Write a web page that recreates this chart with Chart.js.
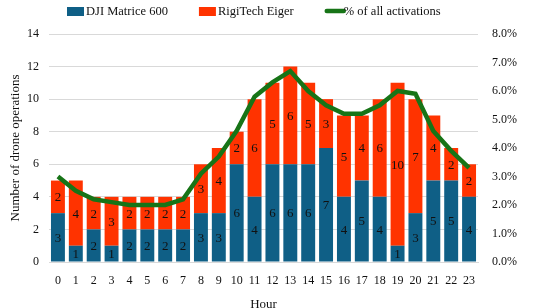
<!DOCTYPE html>
<html>
<head>
<meta charset="utf-8">
<script src="https://cdn.jsdelivr.net/npm/chart.js@4.4.0/dist/chart.umd.min.js"></script>
<style>
  html, body { margin: 0; padding: 0; background: #fff; }
  #wrap { width: 550px; height: 308px; }
</style>
</head>
<body>
<div id="wrap"><canvas id="myChart" width="550" height="308"></canvas></div>
<script>
const hours = ['0','1','2','3','4','5','6','7','8','9','10','11','12','13','14','15','16','17','18','19','20','21','22','23'];
const djiMatrice = [3,1,2,1,2,2,2,2,3,3,6,4,6,6,6,7,4,5,4,1,3,5,5,4];
const rigiTech = [2,4,2,3,2,2,2,2,3,4,2,6,5,6,5,3,5,4,6,10,7,4,2,2];
const pctActivations = [3.0,2.5,2.2,2.1,2.0,2.0,2.0,2.2,3.1,3.7,4.6,5.8,6.3,6.7,6.0,5.5,5.2,5.2,5.5,6.0,5.9,4.6,3.9,3.3];

const serif = "'Liberation Serif', 'DejaVu Serif', serif";
const blue = '#0f5f86';
const red = '#ff3300';
const green = '#177417';

// numbers written in the middle of each bar segment
const segmentLabels = {
    id: 'segmentLabels',
    afterDatasetsDraw(chart) {
        const ctx = chart.ctx;
        ctx.save();
        ctx.font = '13px ' + serif;
        ctx.fillStyle = '#111';
        ctx.textAlign = 'center';
        ctx.textBaseline = 'middle';
        chart.data.datasets.forEach((ds, i) => {
            if (ds.type !== 'bar') return;
            const meta = chart.getDatasetMeta(i);
            meta.data.forEach((bar, j) => {
                const v = ds.data[j];
                if (!v) return;
                ctx.fillText(String(v), bar.x, (bar.y + bar.base) / 2 + 1);
            });
        });
        ctx.restore();
    }
};

// legend on top: two boxes and a thick line
const topLegend = {
    id: 'topLegend',
    afterDraw(chart) {
        const ctx = chart.ctx;
        const items = [
            { text: 'DJI Matrice 600', color: blue, kind: 'box' },
            { text: 'RigiTech Eiger', color: red, kind: 'box' },
            { text: '% of all activations', color: green, kind: 'line' }
        ];
        ctx.save();
        ctx.font = '12.5px ' + serif;
        const keyW = 17, keyGap = 2, itemGap = 31;
        let x = 67;
        const y = 11;
        items.forEach(it => {
            if (it.kind === 'box') {
                ctx.fillStyle = it.color;
                ctx.fillRect(x, y - 4, keyW, 9);
            } else {
                ctx.strokeStyle = it.color;
                ctx.lineWidth = 4.5;
                ctx.lineCap = 'round';
                ctx.beginPath();
                ctx.moveTo(x + 2, y);
                ctx.lineTo(x + keyW + 2, y);
                ctx.stroke();
            }
            ctx.fillStyle = '#111';
            ctx.textAlign = 'left';
            ctx.textBaseline = 'middle';
            ctx.fillText(it.text, x + keyW + keyGap, y + 1);
            x += keyW + keyGap + ctx.measureText(it.text).width + itemGap;
        });
        ctx.restore();
    }
};

const config = {
    data: {
        labels: hours,
        datasets: [
            {
                type: 'line',
                label: '% of all activations',
                data: pctActivations,
                yAxisID: 'y2',
                borderColor: green,
                backgroundColor: green,
                borderWidth: 4.5,
                pointRadius: 0,
                tension: 0,
                order: 0
            },
            {
                type: 'bar',
                label: 'DJI Matrice 600',
                data: djiMatrice,
                backgroundColor: blue,
                yAxisID: 'y',
                barPercentage: 0.78,
                categoryPercentage: 1,
                order: 1
            },
            {
                type: 'bar',
                label: 'RigiTech Eiger',
                data: rigiTech,
                backgroundColor: red,
                yAxisID: 'y',
                barPercentage: 0.78,
                categoryPercentage: 1,
                order: 1
            }
        ]
    },
    options: {
        responsive: false,
        animation: false,
        layout: { padding: { top: 34, left: 4, right: 8, bottom: 0 } },
        plugins: {
            legend: { display: false },
            tooltip: { enabled: false }
        },
        scales: {
            x: {
                stacked: true,
                grid: { display: false },
                border: { color: '#d9d9d9' },
                ticks: { font: { family: serif, size: 12 }, color: '#111', maxRotation: 0, autoSkip: false, padding: 4 },
                title: { display: true, text: 'Hour', font: { family: serif, size: 13 }, color: '#111', padding: { top: 4, bottom: -4 } },
                afterFit(scale) { scale.height = 46; }
            },
            y: {
                stacked: true,
                min: 0,
                max: 14,
                position: 'left',
                ticks: { stepSize: 2, font: { family: serif, size: 12 }, color: '#111', padding: 10 },
                grid: { color: '#d9d9d9', drawTicks: false },
                border: { display: false },
                title: { display: true, text: 'Number of drone operations', font: { family: serif, size: 13 }, color: '#111' },
                afterFit(scale) { scale.width = 45; }
            },
            y2: {
                min: 0,
                max: 8,
                position: 'right',
                ticks: { stepSize: 1, font: { family: serif, size: 12 }, color: '#111', padding: 14,
                    callback: v => v.toFixed(1) + '%' },
                grid: { display: false, drawTicks: false },
                border: { display: false },
                afterFit(scale) { scale.width = 64; }
            }
        }
    },
    plugins: [segmentLabels, topLegend]
};

new Chart(document.getElementById('myChart'), config);
</script>
</body>
</html>
